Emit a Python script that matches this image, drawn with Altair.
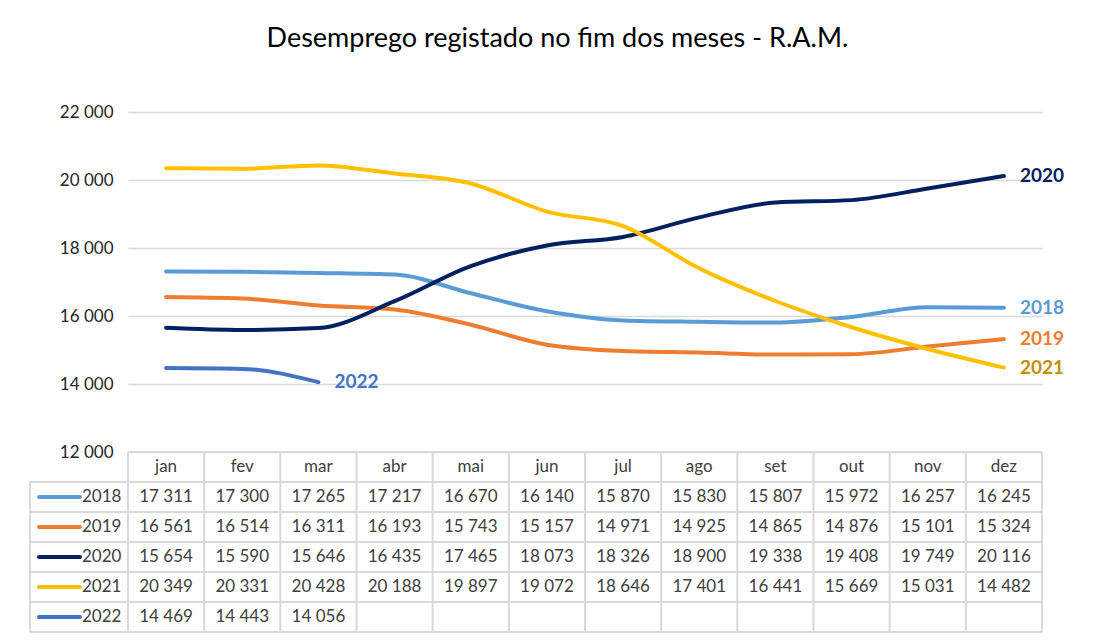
import altair as alt
import pandas as pd

months = ["jan", "fev", "mar", "abr", "mai", "jun", "jul", "ago", "set", "out", "nov", "dez"]
years = ["2018", "2019", "2020", "2021", "2022"]
v2018 = [17311, 17300, 17265, 17217, 16670, 16140, 15870, 15830, 15807, 15972, 16257, 16245]
v2019 = [16561, 16514, 16311, 16193, 15743, 15157, 14971, 14925, 14865, 14876, 15101, 15324]
v2020 = [15654, 15590, 15646, 16435, 17465, 18073, 18326, 18900, 19338, 19408, 19749, 20116]
v2021 = [20349, 20331, 20428, 20188, 19897, 19072, 18646, 17401, 16441, 15669, 15031, 14482]
v2022 = [14469, 14443, 14056]
line_colors = ["#5b9bd5", "#ed7d31", "#002060", "#ffc000", "#4472c4"]
label_colors = ["#5b9bd5", "#ed7d31", "#002060", "#bf9000", "#4472c4"]
y_ticks = [12000, 14000, 16000, 18000, 20000, 22000]

FONT = "Lato"
TXT = "#404040"
GRID = "#d9d9d9"
W = 914

series = [v2018, v2019, v2020, v2021, v2022]
rows = []
for yi, (yr, vals) in enumerate(zip(years, series)):
    for mi, v in enumerate(vals):
        rows.append({
            "year": yr, "month": months[mi], "mi": mi + 0.5, "row": yi + 1.5,
            "value": v, "label": f"{v:,}".replace(",", " "),
            "col": line_colors[yi], "lcol": label_colors[yi],
        })
df = pd.DataFrame(rows)
last = df.groupby("year", as_index=False).last()

xs = alt.X("month:O", scale=alt.Scale(type="point", padding=0.5, domain=months), axis=None)
ys = alt.Y("value:Q", scale=alt.Scale(domain=[12000, 22000], nice=False, zero=False),
           axis=alt.Axis(values=y_ticks, grid=True, gridColor=GRID, gridWidth=1.5, domain=False,
                         ticks=False, labelFont=FONT, labelFontSize=17, labelColor="#262626",
                         labelPadding=15, title=None,
                         labelExpr="replace(format(datum.value, ','), ',', ' ')"))

lines = alt.Chart(df).mark_line(strokeWidth=4, interpolate="monotone", strokeCap="round").encode(
    x=xs, y=ys, detail="year:N", color=alt.Color("col:N", scale=None)
)
end_labels = alt.Chart(last).mark_text(align="left", baseline="middle", dx=16, fontSize=19,
                                        fontWeight="bold", font=FONT).encode(
    x=xs, y=alt.Y("value:Q"), text="year:N", color=alt.Color("lcol:N", scale=None)
)
top = alt.layer(lines, end_labels).properties(width=W, height=340)

# ---- data table ----
tx = alt.Scale(domain=[0, 12], nice=False, zero=False)
ty = alt.Scale(domain=[0, 6], nice=False, zero=False, reverse=True)

hdr = pd.DataFrame({"month": months, "mi": [i + 0.5 for i in range(12)], "row": [0.5] * 12})
vlines = pd.DataFrame({"x": list(range(13)), "y0": [0] * 13, "y1": [6] * 13})
hlines = pd.DataFrame({"y": list(range(1, 7)), "xe": [12] * 6})
legend_df = pd.DataFrame({"year": years, "row": [i + 1.5 for i in range(5)], "col": line_colors})

vrule = alt.Chart(vlines).mark_rule(color=GRID, strokeWidth=2).encode(
    x=alt.X("x:Q", scale=tx, axis=None), y=alt.Y("y0:Q", scale=ty, axis=None), y2="y1:Q")
top_rule = alt.Chart(pd.DataFrame({"a": [0], "b": [12], "y": [0]})).mark_rule(color=GRID, strokeWidth=2).encode(
    x=alt.X("a:Q", scale=tx, axis=None), x2="b:Q", y=alt.Y("y:Q", scale=ty, axis=None))
hrule = alt.Chart(hlines).mark_rule(color=GRID, strokeWidth=2).encode(
    x=alt.X("xe:Q", scale=tx, axis=None), x2=alt.value(-98), y=alt.Y("y:Q", scale=ty, axis=None))
lrule = alt.Chart(pd.DataFrame({"y0": [1], "y1": [6]})).mark_rule(color=GRID, strokeWidth=2).encode(
    x=alt.value(-98), y=alt.Y("y0:Q", scale=ty, axis=None), y2="y1:Q")
hdr_text = alt.Chart(hdr).mark_text(fontSize=17, font=FONT, color=TXT).encode(
    x=alt.X("mi:Q", scale=tx, axis=None), y=alt.Y("row:Q", scale=ty, axis=None), text="month:N")
cell_text = alt.Chart(df).mark_text(fontSize=17, font=FONT, color=TXT).encode(
    x=alt.X("mi:Q", scale=tx, axis=None), y=alt.Y("row:Q", scale=ty, axis=None), text="label:N")
leg_line = alt.Chart(legend_df).mark_rule(strokeWidth=4, strokeCap="round").encode(
    x=alt.value(-89), x2=alt.value(-48), y=alt.Y("row:Q", scale=ty, axis=None),
    color=alt.Color("col:N", scale=None))
leg_text = alt.Chart(legend_df).mark_text(fontSize=17, font=FONT, color=TXT, align="left").encode(
    x=alt.value(-46), y=alt.Y("row:Q", scale=ty, axis=None), text="year:N")

table = alt.layer(vrule, top_rule, hrule, lrule, hdr_text, cell_text, leg_line, leg_text).properties(
    width=W, height=180)

chart = alt.vconcat(top, table, spacing=0, bounds="flush").properties(
    title=alt.TitleParams("Desemprego registado no fim dos meses - R.A.M.", font=FONT, fontSize=27,
                          fontWeight="normal", color="#000000", anchor="middle", dx=11, offset=50),
    padding={"left": 21, "top": 17, "right": 5, "bottom": 5},
    background="white",
).configure_view(strokeWidth=0, stroke=None)

chart.save("out.html", embed_options={"renderer": "svg", "actions": False})
